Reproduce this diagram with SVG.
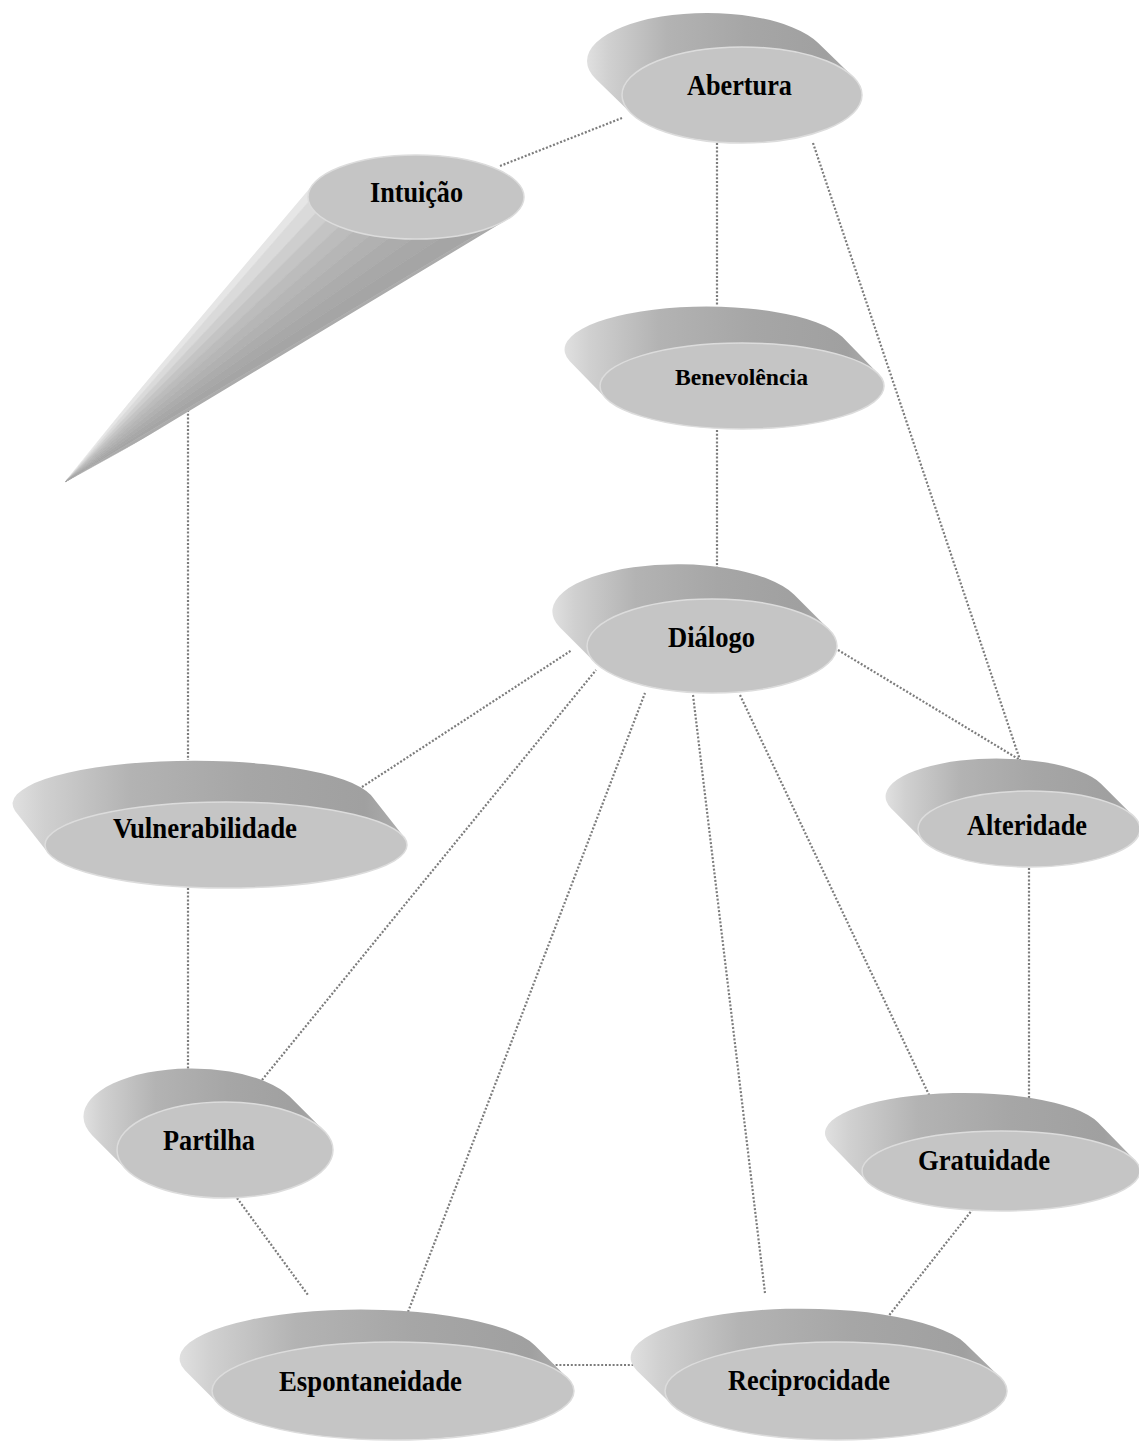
<svg xmlns="http://www.w3.org/2000/svg" width="1139" height="1441" viewBox="0 0 1139 1441">
  <defs>
    <!-- side wall of the extruded discs -->
    <linearGradient id="side" x1="0" y1="0" x2="1" y2="0">
      <stop offset="0" stop-color="#e0e0e0"/>
      <stop offset="0.08" stop-color="#d0d0d0"/>
      <stop offset="0.3" stop-color="#b3b3b3"/>
      <stop offset="0.6" stop-color="#a6a6a6"/>
      <stop offset="0.9" stop-color="#a0a0a0"/>
      <stop offset="1" stop-color="#aeaeae"/>
    </linearGradient>
    <clipPath id="coneClip">
      <path d="M313.3,184 A108,42 0 1 1 506.3,220 L73,481 Q64,488 66,477 Z"/>
    </clipPath>
  </defs>
  <style>
    .link { fill: none; stroke: #7c7c7c; stroke-width: 2.2; stroke-dasharray: 2 1.8; }
    .side { fill: url(#side); }
    .face { fill: #c5c5c5; stroke: #dcdcdc; stroke-width: 1.5; }
    .label { font-family: "Liberation Serif", "Times New Roman", serif; font-weight: bold; font-size: 30px; fill: #000; }
    .small { font-size: 24px; }
  </style>

  <rect width="1139" height="1441" fill="#fff"/>

  <!-- connectors -->
  <g id="connectors">
    <line class="link" x1="500" y1="166" x2="622" y2="118"/>
    <line class="link" x1="717" y1="143" x2="717" y2="306"/>
    <line class="link" x1="813" y1="143" x2="1020" y2="760"/>
    <line class="link" x1="717" y1="430" x2="717" y2="573"/>
    <line class="link" x1="188" y1="410" x2="188" y2="760"/>
    <line class="link" x1="188" y1="888" x2="188" y2="1070"/>
    <line class="link" x1="362" y1="787" x2="572" y2="650"/>
    <line class="link" x1="262" y1="1080" x2="596" y2="670"/>
    <line class="link" x1="408" y1="1312" x2="645" y2="693"/>
    <line class="link" x1="693" y1="695" x2="765" y2="1293"/>
    <line class="link" x1="740" y1="695" x2="930" y2="1097"/>
    <line class="link" x1="838" y1="650" x2="1020" y2="760"/>
    <line class="link" x1="1029" y1="868" x2="1029" y2="1098"/>
    <line class="link" x1="237" y1="1198" x2="308" y2="1295"/>
    <line class="link" x1="980" y1="1200" x2="887" y2="1318"/>
    <line class="link" x1="548" y1="1365" x2="642" y2="1365"/>
  </g>

  <!-- Abertura -->
  <g id="node-abertura">
    <path class="side" d="M852.96,76.72 L817.96,42.72 A120,48 0 0 0 596.04,79.28 L631.04,113.28 A120,48 0 0 1 852.96,76.72 Z"/>
    <ellipse class="face" cx="742" cy="95" rx="120" ry="48"/>
    <text class="label" x="687" y="95" textLength="105" lengthAdjust="spacingAndGlyphs">Abertura</text>
  </g>

  <!-- Intuição: cone tapering to a point -->
  <g id="node-intuicao">
    <g clip-path="url(#coneClip)" stroke-width="0.6">
      <polygon points="65,482 442.6,15.7 458.7,29.2" fill="#e6e6e6" stroke="#e6e6e6"/>
      <polygon points="65,482 458.7,29.2 474.2,43.2" fill="#dadada" stroke="#dadada"/>
      <polygon points="65,482 474.2,43.2 489.3,57.7" fill="#cecece" stroke="#cecece"/>
      <polygon points="65,482 489.3,57.7 503.8,72.8" fill="#c4c4c4" stroke="#c4c4c4"/>
      <polygon points="65,482 503.8,72.8 517.8,88.3" fill="#bcbcbc" stroke="#bcbcbc"/>
      <polygon points="65,482 517.8,88.3 531.3,104.4" fill="#b6b6b6" stroke="#b6b6b6"/>
      <polygon points="65,482 531.3,104.4 544.2,120.9" fill="#b1b1b1" stroke="#b1b1b1"/>
      <polygon points="65,482 544.2,120.9 556.5,137.8" fill="#acacac" stroke="#acacac"/>
      <polygon points="65,482 556.5,137.8 568.2,155.2" fill="#a8a8a8" stroke="#a8a8a8"/>
      <polygon points="65,482 568.2,155.2 579.3,173.0" fill="#a5a5a5" stroke="#a5a5a5"/>
      <polygon points="65,482 579.3,173.0 589.8,191.1" fill="#ababab" stroke="#ababab"/>
    </g>
    <ellipse class="face" cx="416" cy="197" rx="108" ry="42"/>
    <text class="label" x="370" y="202" textLength="93" lengthAdjust="spacingAndGlyphs">Intuição</text>
  </g>

  <!-- Benevolência -->
  <g id="node-benevolencia">
    <path class="side" d="M878.2,373.85 L842.2,336.85 A142,43 0 0 0 569.8,361.15 L605.8,398.15 A142,43 0 0 1 878.2,373.85 Z"/>
    <ellipse class="face" cx="742" cy="386" rx="142" ry="43"/>
    <text class="label small" x="675" y="385" textLength="133" lengthAdjust="spacingAndGlyphs">Benevolência</text>
  </g>

  <!-- Diálogo -->
  <g id="node-dialogo">
    <path class="side" d="M829,629.46 L794,594.46 A125,47 0 0 0 560,627.54 L595,662.54 A125,47 0 0 1 829,629.46 Z"/>
    <ellipse class="face" cx="712" cy="646" rx="125" ry="47"/>
    <text class="label" x="668" y="647" textLength="87" lengthAdjust="spacingAndGlyphs">Diálogo</text>
  </g>

  <!-- Vulnerabilidade -->
  <g id="node-vulnerabilidade">
    <path class="side" d="M403.9,837.11 L370.9,795.11 A181,43 0 0 0 15.1,810.89 L48.1,852.89 A181,43 0 0 1 403.9,837.11 Z"/>
    <ellipse class="face" cx="226" cy="845" rx="181" ry="43"/>
    <text class="label" x="113" y="838" textLength="184" lengthAdjust="spacingAndGlyphs">Vulnerabilidade</text>
  </g>

  <!-- Alteridade -->
  <g id="node-alteridade">
    <path class="side" d="M1134,816.69 L1101,783.69 A111,38 0 0 0 891,808.31 L924,841.31 A111,38 0 0 1 1134,816.69 Z"/>
    <ellipse class="face" cx="1029" cy="829" rx="111" ry="38"/>
    <text class="label" x="967" y="835" textLength="120" lengthAdjust="spacingAndGlyphs">Alteridade</text>
  </g>

  <!-- Partilha -->
  <g id="node-partilha">
    <path class="side" d="M323.69,1130.51 L289.69,1096.51 A108,48 0 0 0 92.31,1135.49 L126.31,1169.49 A108,48 0 0 1 323.69,1130.51 Z"/>
    <ellipse class="face" cx="225" cy="1150" rx="108" ry="48"/>
    <text class="label" x="163" y="1150" textLength="92" lengthAdjust="spacingAndGlyphs">Partilha</text>
  </g>

  <!-- Gratuidade -->
  <g id="node-gratuidade">
    <path class="side" d="M1134.85,1160.21 L1097.85,1122.21 A139,40 0 0 0 830.15,1143.79 L867.15,1181.79 A139,40 0 0 1 1134.85,1160.21 Z"/>
    <ellipse class="face" cx="1001" cy="1171" rx="139" ry="40"/>
    <text class="label" x="918" y="1170" textLength="132" lengthAdjust="spacingAndGlyphs">Gratuidade</text>
  </g>

  <!-- Espontaneidade -->
  <g id="node-espontaneidade">
    <path class="side" d="M567.7,1378.2 L534.7,1345.2 A181,49 0 0 0 185.3,1370.8 L218.3,1403.8 A181,49 0 0 1 567.7,1378.2 Z"/>
    <ellipse class="face" cx="393" cy="1391" rx="181" ry="49"/>
    <text class="label" x="279" y="1391" textLength="183" lengthAdjust="spacingAndGlyphs">Espontaneidade</text>
  </g>

  <!-- Reciprocidade -->
  <g id="node-reciprocidade">
    <path class="side" d="M1000,1377.14 L965,1343.14 A171,49 0 0 0 637,1370.86 L672,1404.86 A171,49 0 0 1 1000,1377.14 Z"/>
    <ellipse class="face" cx="836" cy="1391" rx="171" ry="49"/>
    <text class="label" x="728" y="1390" textLength="162" lengthAdjust="spacingAndGlyphs">Reciprocidade</text>
  </g>
</svg>
